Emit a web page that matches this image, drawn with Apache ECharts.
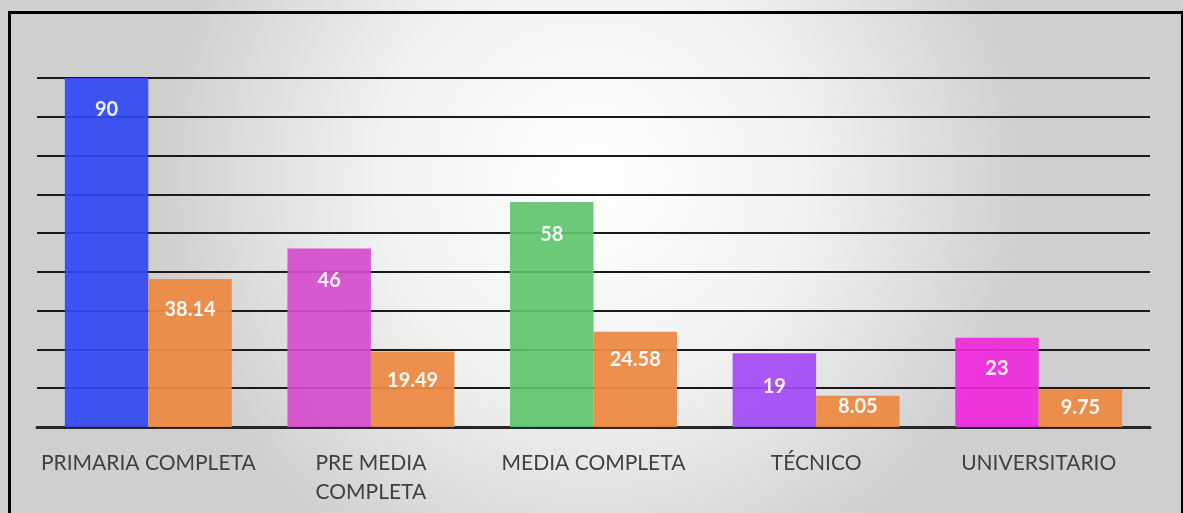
<!DOCTYPE html>
<html>
<head>
<meta charset="utf-8">
<script src="https://cdn.jsdelivr.net/npm/echarts@6/dist/echarts.min.js"></script>
<style>
  html, body { margin: 0; padding: 0; }
  #chart { width: 1183px; height: 513px; }
</style>
</head>
<body>
<div id="chart"></div>
<script>
// data
const categories = ["PRIMARIA COMPLETA", "PRE MEDIA\nCOMPLETA", "MEDIA COMPLETA", "TÉCNICO", "UNIVERSITARIO"];
const counts = [90, 46, 58, 19, 23];
const percents = [38.14, 19.49, 24.58, 8.05, 9.75];
const countColors = ["#3149f2", "#d54ccc", "#5ec46c", "#a34af4", "#ef29dc"];
const percentColor = "#ec8a45";
// label distance from bar top (Excel squeezes labels on short bars)
const countLabelDist = [22, 22, 22, 23, 21];
const percentLabelDist = [20, 19, 18, 1, 8];

const chart = echarts.init(document.getElementById("chart"));

const labelBase = {
  show: true,
  position: "insideTop",
  color: "#fff",
  fontWeight: "bold",
  fontSize: 20,
  fontFamily: "Lato",
};

chart.setOption({
  backgroundColor: {
    type: "radial",
    x: 0.5,
    y: 0.35,
    r: 0.85,
    colorStops: [
      { offset: 0, color: "#ffffff" },
      { offset: 0.5, color: "#f1f1f1" },
      { offset: 1, color: "#cfcfcf" },
    ],
  },
  animation: false,
  grid: { left: 37, right: 33, top: 78, bottom: 86 },
  graphic: [
    {
      type: "rect",
      left: 7,
      top: 10,
      shape: { width: 1173, height: 520 },
      style: { fill: "none", stroke: "#000", lineWidth: 3 },
      z: 100,
    },
  ],
  xAxis: {
    type: "category",
    data: categories,
    axisLine: { lineStyle: { color: "#262626", width: 3 } },
    axisTick: { show: false },
    axisLabel: {
      color: "#404040",
      fontSize: 21,
      fontFamily: "Lato",
      margin: 22,
      lineHeight: 29,
      interval: 0,
    },
  },
  yAxis: {
    type: "value",
    min: 0,
    max: 90,
    interval: 10,
    axisLabel: { show: false },
    axisLine: { show: false },
    axisTick: { show: false },
    splitLine: { lineStyle: { color: "#1a1a1a", width: 2 } },
  },
  series: [
    {
      type: "bar",
      name: "Cantidad",
      barGap: "0%",
      barCategoryGap: "25%",
      data: counts.map((v, i) => ({
        value: v,
        itemStyle: { color: countColors[i], opacity: 0.92 },
        label: { distance: countLabelDist[i] },
      })),
      label: labelBase,
      z: 3,
    },
    {
      type: "bar",
      name: "Porcentaje",
      data: percents.map((v, i) => ({
        value: v,
        label: { distance: percentLabelDist[i] },
      })),
      itemStyle: { color: percentColor, opacity: 0.95 },
      label: labelBase,
      z: 3,
    },
  ],
});
</script>
</body>
</html>
